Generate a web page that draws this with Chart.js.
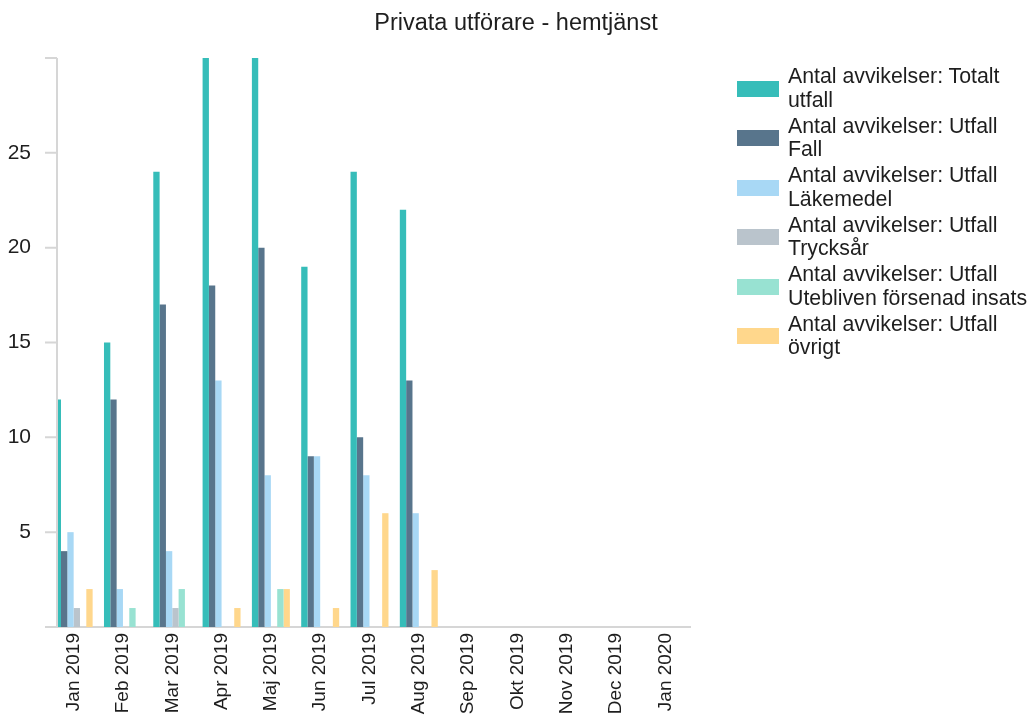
<!DOCTYPE html>
<html>
<head>
<meta charset="utf-8">
<title>Privata utförare - hemtjänst</title>
<script src="https://cdn.jsdelivr.net/npm/chart.js@4"></script>
<style>
    body { margin: 0; background: #fff; font-family: 'Liberation Sans', Arial, sans-serif; }
    #wrap { position: relative; width: 1028px; height: 715px; overflow: hidden; }
    #title { position: absolute; left: 0; top: 8px; width: 1032px; text-align: center; color: #1e1e1e; font-size: 23.5px; line-height: 28px; }
    #legend { position: absolute; left: 737px; top: 65px; width: 300px; color: #1e1e1e; font-size: 21.3px; line-height: 23.5px; white-space: nowrap; }
    .item { display: flex; align-items: center; margin-bottom: 2.5px; }
    .box { width: 42px; height: 16px; margin-right: 9px; flex: none; }
</style>
</head>
<body>
<div id="wrap">
    <canvas id="chart" width="1028" height="715"></canvas>
    <div id="title">Privata utförare - hemtjänst</div>
    <div id="legend"></div>
</div>
<script>
const months = ['Jan 2019', 'Feb 2019', 'Mar 2019', 'Apr 2019', 'Maj 2019', 'Jun 2019', 'Jul 2019',
    'Aug 2019', 'Sep 2019', 'Okt 2019', 'Nov 2019', 'Dec 2019', 'Jan 2020'];

const seriesNames = [
    ['Antal avvikelser: Totalt', 'utfall'],
    ['Antal avvikelser: Utfall', 'Fall'],
    ['Antal avvikelser: Utfall', 'Läkemedel'],
    ['Antal avvikelser: Utfall', 'Trycksår'],
    ['Antal avvikelser: Utfall', 'Utebliven försenad insats'],
    ['Antal avvikelser: Utfall', 'övrigt']
];
const seriesColors = ['#36bdb9', '#58758c', '#a8d8f5', '#bac4cc', '#98e2d2', '#ffd78c'];

// Jan 2019 .. Aug 2019, nothing reported after that
const totalt     = [12, 15, 24, 30, 30, 19, 24, 22, null, null, null, null, null];
const fall       = [4, 12, 17, 18, 20, 9, 10, 13, null, null, null, null, null];
const lakemedel  = [5, 2, 4, 13, 8, 9, 8, 6, null, null, null, null, null];
const trycksar   = [1, 0, 1, 0, 0, 0, 0, 0, null, null, null, null, null];
const utebliven  = [0, 1, 2, 0, 2, 0, 0, 0, null, null, null, null, null];
const ovrigt     = [2, 0, 0, 1, 2, 1, 6, 3, null, null, null, null, null];

const yTicksShown = [5, 10, 15, 20, 25];

const seriesData = [totalt, fall, lakemedel, trycksar, utebliven, ovrigt];
const axisColor = '#d6d6d6';
const axisShift = 8; // y axis line sits a bit inside the category band

// the y axis line + tick marks, and clip bars left of it
const yAxisLine = {
    id: 'yAxisLine',
    beforeDatasetsDraw(chart) {
        const { ctx, chartArea } = chart;
        const x0 = chartArea.left + axisShift;
        ctx.save();
        ctx.beginPath();
        ctx.rect(x0, chartArea.top - 2, chartArea.right - x0 + 2, chartArea.bottom - chartArea.top + 4);
        ctx.clip();
    },
    afterDatasetsDraw(chart) {
        chart.ctx.restore();
    },
    afterDraw(chart) {
        const { ctx, chartArea, scales } = chart;
        const x0 = chartArea.left + axisShift;
        ctx.save();
        ctx.strokeStyle = axisColor;
        ctx.lineWidth = 2;
        ctx.beginPath();
        ctx.moveTo(x0, chartArea.top);
        ctx.lineTo(x0, chartArea.bottom);
        scales.y.ticks.forEach(t => {
            const py = scales.y.getPixelForValue(t.value);
            ctx.moveTo(x0 - 12, py);
            ctx.lineTo(x0, py);
        });
        ctx.stroke();
        ctx.restore();
    }
};

const font = "'Liberation Sans', Arial, sans-serif";

new Chart(document.getElementById('chart'), {
    type: 'bar',
    data: {
        labels: months,
        datasets: seriesData.map((d, i) => ({
            label: seriesNames[i].join(' '),
            data: d,
            backgroundColor: seriesColors[i],
            borderWidth: 0,
            barPercentage: 1,
            categoryPercentage: 0.77
        }))
    },
    options: {
        responsive: false,
        animation: false,
        layout: { padding: { top: 58, right: 338 } },
        plugins: {
            legend: { display: false },
            tooltip: { enabled: false }
        },
        scales: {
            x: {
                grid: { drawOnChartArea: false, drawTicks: false },
                border: { display: true, color: axisColor, width: 2 },
                ticks: {
                    color: '#1e1e1e',
                    font: { family: font, size: 19 },
                    minRotation: 90,
                    maxRotation: 90,
                    autoSkip: false,
                    padding: 6
                },
                afterFit: (scale) => { scale.height = 88; }
            },
            y: {
                min: 0,
                max: 30,
                grid: { display: false },
                border: { display: false },
                ticks: {
                    stepSize: 5,
                    color: '#1e1e1e',
                    font: { family: font, size: 21 },
                    padding: 10,
                    callback: (v) => yTicksShown.includes(v) ? v : ''
                },
                afterFit: (scale) => { scale.width = 49; }
            }
        }
    },
    plugins: [yAxisLine]
});

// legend as html, two lines per entry
const legend = document.getElementById('legend');
legend.innerHTML = seriesNames.map((name, i) =>
    `<div class="item"><span class="box" style="background:${seriesColors[i]}"></span><span>${name.join('<br>')}</span></div>`
).join('');
</script>
</body>
</html>
